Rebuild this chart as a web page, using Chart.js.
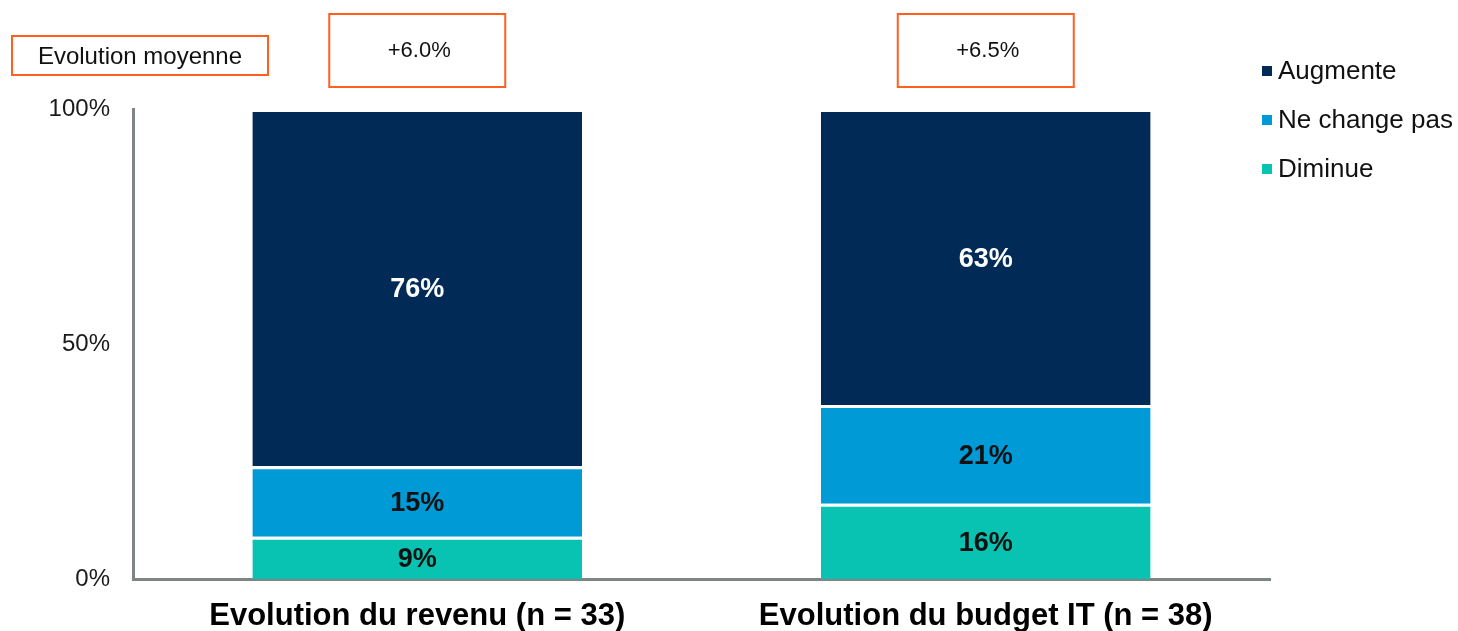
<!DOCTYPE html>
<html>
<head>
<meta charset="utf-8">
<script src="https://cdn.jsdelivr.net/npm/chart.js@4/dist/chart.umd.min.js"></script>
<style>
  html, body { margin: 0; padding: 0; background: #ffffff; }
  #wrap { position: relative; width: 1458px; height: 631px; }
</style>
</head>
<body>
<div id="wrap"><canvas id="c"></canvas></div>
<script>
const categories = ['Evolution du revenu (n = 33)', 'Evolution du budget IT (n = 38)'];
const diminue = [9, 16];
const neChangePas = [15, 21];
const augmente = [76, 63];
const evolutionMoyenne = ['+6.0%', '+6.5%'];
const evolutionLabel = 'Evolution moyenne';
const yTicks = [0, 50, 100];

const FONT = '"Liberation Sans", Arial, sans-serif';
const ORANGE = '#ff5f1f';

const dataLabelPlugin = {
  id: 'dataLabels',
  afterDatasetsDraw(chart) {
    const ctx = chart.ctx;
    ctx.save();
    ctx.font = 'bold 27px ' + FONT;
    ctx.textAlign = 'center';
    ctx.textBaseline = 'middle';
    chart.data.datasets.forEach((ds, di) => {
      const meta = chart.getDatasetMeta(di);
      meta.data.forEach((bar, i) => {
        const p = bar.getCenterPoint();
        ctx.fillStyle = ds.labelColor;
        ctx.fillText(ds.data[i] + '%', p.x, p.y + 2);
      });
    });
    ctx.restore();
  }
};

const boxesPlugin = {
  id: 'avgBoxes',
  afterDraw(chart) {
    const ctx = chart.ctx;
    const xs = chart.scales.x;
    ctx.save();
    ctx.strokeStyle = ORANGE;
    ctx.lineWidth = 2;
    ctx.fillStyle = '#111111';
    ctx.textAlign = 'center';
    ctx.textBaseline = 'middle';
    ctx.font = '24px ' + FONT;
    ctx.strokeRect(12, 36, 256, 39);
    ctx.fillText(evolutionLabel, 140, 57);
    ctx.font = '22px ' + FONT;
    evolutionMoyenne.forEach((t, i) => {
      const cx = xs.getPixelForTick(i);
      ctx.strokeRect(cx - 88, 14, 176, 73);
      ctx.fillText(t, cx + 2, 51);
    });
    ctx.restore();
  }
};

const legendPlugin = {
  id: 'customLegend',
  afterDraw(chart) {
    const ctx = chart.ctx;
    const items = chart.data.datasets.slice().reverse();
    ctx.save();
    ctx.font = '26px ' + FONT;
    ctx.textAlign = 'left';
    ctx.textBaseline = 'middle';
    items.forEach((ds, i) => {
      const y = 71 + i * 49;
      ctx.fillStyle = ds.backgroundColor;
      ctx.fillRect(1262, y - 5, 10, 10);
      ctx.fillStyle = '#111111';
      ctx.fillText(ds.label, 1278, y + 1);
    });
    ctx.restore();
  }
};

const border = { top: 3, right: 0, bottom: 0, left: 0 };

new Chart(document.getElementById('c'), {
  type: 'bar',
  data: {
    labels: categories,
    datasets: [
      { label: 'Diminue', data: diminue, backgroundColor: '#09c3b2', labelColor: '#111111',
        borderColor: '#ffffff', borderWidth: border, borderSkipped: false },
      { label: 'Ne change pas', data: neChangePas, backgroundColor: '#009ad6', labelColor: '#111111',
        borderColor: '#ffffff', borderWidth: border, borderSkipped: false },
      { label: 'Augmente', data: augmente, backgroundColor: '#022a56', labelColor: '#ffffff',
        borderColor: '#ffffff', borderWidth: border, borderSkipped: false }
    ]
  },
  options: {
    responsive: true,
    maintainAspectRatio: false,
    animation: false,
    layout: { padding: { top: 109, right: 188, bottom: 0, left: 0 } },
    datasets: { bar: { barPercentage: 0.58, categoryPercentage: 1.0 } },
    plugins: {
      legend: { display: false },
      tooltip: { enabled: false },
      title: { display: false }
    },
    scales: {
      x: {
        stacked: true,
        grid: { display: false, drawTicks: false },
        border: { display: true, color: '#7f8585', width: 3 },
        ticks: { color: '#000000', font: { family: FONT, size: 31, weight: 'bold' }, padding: 19, maxRotation: 0 },
        afterFit(scale) { scale.height = 52; }
      },
      y: {
        stacked: true,
        min: 0,
        max: 100,
        grid: { display: false, drawTicks: false },
        border: { display: true, color: '#7f8585', width: 3 },
        afterBuildTicks(scale) { scale.ticks = yTicks.map(v => ({ value: v })); },
        ticks: {
          color: '#1a1a1a',
          font: { family: FONT, size: 24 },
          padding: 23,
          callback: (v) => v + '%'
        },
        afterFit(scale) { scale.width = 133; }
      }
    }
  },
  plugins: [dataLabelPlugin, boxesPlugin, legendPlugin]
});
</script>
</body>
</html>
